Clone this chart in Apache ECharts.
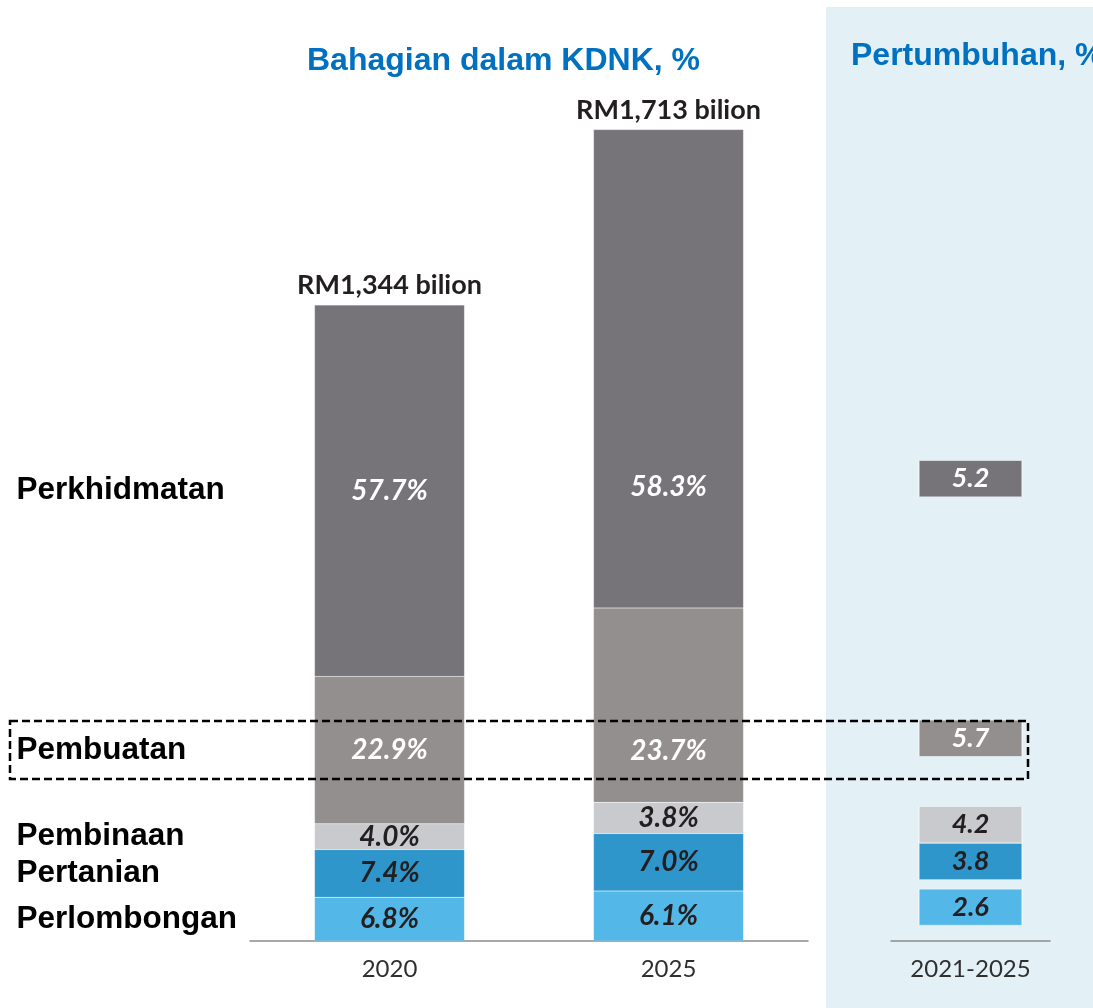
<!DOCTYPE html>
<html>
<head>
<meta charset="utf-8">
<script src="https://cdn.jsdelivr.net/npm/echarts@6/dist/echarts.min.js"></script>
<style>
  html, body { margin: 0; padding: 0; background: #fff; }
  #chart { width: 1093px; height: 1008px; }
</style>
</head>
<body>
<div id="chart"></div>
<script>
// data
const tahun = ['2020', '2025']
const jumlahKDNK = [1344, 1713] // RM bilion
const sektor = ['Perlombongan', 'Pertanian', 'Pembinaan', 'Pembuatan', 'Perkhidmatan']
const bahagianPerlombongan = [6.8, 6.1]
const bahagianPertanian = [7.4, 7.0]
const bahagianPembinaan = [4.0, 3.8]
const bahagianPembuatan = [22.9, 23.7]
const bahagianPerkhidmatan = [57.7, 58.3]
const tempoh = ['2021-2025']
const pertumbuhan = [2.6, 3.8, 4.2, 5.7, 5.2] // same order as sektor

const bahagian = [bahagianPerlombongan, bahagianPertanian, bahagianPembinaan, bahagianPembuatan, bahagianPerkhidmatan]
const warna = ['#53b7e7', '#2f96cc', '#c9cacd', '#938f8e', '#767379']
const warnaTeks = ['#231f20', '#231f20', '#231f20', '#ffffff', '#ffffff']

// RM bilion per segment
const nilai = bahagian.map(arr => arr.map((p, t) => p * jumlahKDNK[t] / 100))
const jumlahStack = tahun.map((_, t) => nilai.reduce((s, arr) => s + arr[t], 0))
// middle of each 2020 segment -> row of the sector
const tengah2020 = []
let cum = 0
nilai.forEach(arr => { tengah2020.push(cum + arr[0] / 2); cum += arr[0] })

// 2025 labels of the two big segments sit on the same row as 2020
const offset2025 = [null, null, null, [0, 46], [0, 118]]

const pctFont = { fontFamily: 'Lato', fontStyle: 'italic', fontWeight: 'bold', fontSize: 28 }

const chart = echarts.init(document.getElementById('chart'))

const series = []
sektor.forEach((nama, i) => {
  series.push({
    name: nama,
    type: 'bar',
    stack: 'kdnk',
    xAxisIndex: 0,
    yAxisIndex: 0,
    barWidth: 150,
    itemStyle: { color: warna[i], borderColor: 'rgba(255,255,255,0.25)', borderWidth: 0.5 },
    label: Object.assign({
      show: true,
      position: 'inside',
      color: warnaTeks[i],
      formatter: p => bahagian[i][p.dataIndex].toFixed(1) + '%'
    }, pctFont),
    data: nilai[i].map((v, t) => {
      if (t === 1 && offset2025[i]) {
        return { value: v, label: { offset: offset2025[i] } }
      }
      return v
    })
  })
})

// totals above the bars
series.push({
  type: 'scatter',
  xAxisIndex: 0,
  yAxisIndex: 0,
  symbolSize: 0,
  silent: true,
  itemStyle: { opacity: 1 },
  label: {
    show: true,
    position: 'top',
    distance: 6,
    color: '#231f20',
    fontFamily: 'Lato',
    fontWeight: 'bold',
    fontSize: 27,
    formatter: p => 'RM' + jumlahKDNK[p.dataIndex].toLocaleString('en-US') + ' bilion'
  },
  data: tahun.map((t, k) => [t, jumlahStack[k]])
})

// sector names on the left
series.push({
  type: 'scatter',
  xAxisIndex: 0,
  yAxisIndex: 0,
  symbolSize: 0,
  silent: true,
  itemStyle: { opacity: 1 },
  label: {
    show: true,
    position: [-373, 0],
    align: 'left',
    verticalAlign: 'middle',
    color: '#000',
    fontFamily: 'Liberation Sans',
    fontWeight: 'bold',
    fontSize: 31.5,
    formatter: p => sektor[p.dataIndex]
  },
  data: sektor.map((s, i) => [tahun[0], tengah2020[i]])
})

// growth boxes
series.push({
  type: 'scatter',
  xAxisIndex: 1,
  yAxisIndex: 1,
  symbol: 'rect',
  symbolSize: [103, 36],
  silent: true,
  label: Object.assign({
    show: true,
    position: 'inside',
    formatter: p => p.value[2].toFixed(1)
  }, pctFont, { fontSize: 27 }),
  data: sektor.map((s, i) => ({
    value: [tempoh[0], tengah2020[i], pertumbuhan[i]],
    itemStyle: { color: warna[i], opacity: 1, borderColor: 'rgba(255,255,255,0.5)', borderWidth: 1 },
    label: { color: warnaTeks[i] }
  }))
})

const axisLabelStyle = { fontFamily: 'Lato', fontSize: 24, color: '#2f2f2f', margin: 16 }

chart.setOption({
  animation: false,
  title: [
    {
      text: 'Bahagian dalam KDNK, %',
      left: 302,
      top: 40,
      textStyle: { color: '#0070c0', fontFamily: 'Liberation Sans', fontWeight: 'bold', fontSize: 32 }
    },
    {
      text: 'Pertumbuhan, %',
      left: 846,
      top: 35,
      textStyle: { color: '#0070c0', fontFamily: 'Liberation Sans', fontWeight: 'bold', fontSize: 32 }
    }
  ],
  graphic: [
    {
      type: 'rect',
      z: -100,
      shape: { x: 826, y: 7, width: 267, height: 1001 },
      style: { fill: '#e3f0f6' }
    },
    {
      type: 'rect',
      z: 100,
      shape: { x: 10, y: 721, width: 1018, height: 58 },
      style: { fill: 'none', stroke: '#000', lineWidth: 2.5, lineDash: [8, 4] }
    }
  ],
  grid: [
    { left: 250, right: 285, top: 100, bottom: 67 },
    { left: 891, right: 43, top: 100, bottom: 67 }
  ],
  xAxis: [
    {
      type: 'category',
      gridIndex: 0,
      data: tahun,
      axisLine: { lineStyle: { color: '#8c8c8c', width: 1.5 } },
      axisTick: { show: false },
      axisLabel: axisLabelStyle
    },
    {
      type: 'category',
      gridIndex: 1,
      data: tempoh,
      axisLine: { onZero: false, lineStyle: { color: '#8c8c8c', width: 1.5 } },
      axisTick: { show: false },
      axisLabel: axisLabelStyle
    }
  ],
  yAxis: [
    { type: 'value', gridIndex: 0, min: 0, max: 1756, show: false },
    { type: 'value', gridIndex: 1, min: -25, max: 1731, show: false }
  ],
  series: series
})
</script>
</body>
</html>
